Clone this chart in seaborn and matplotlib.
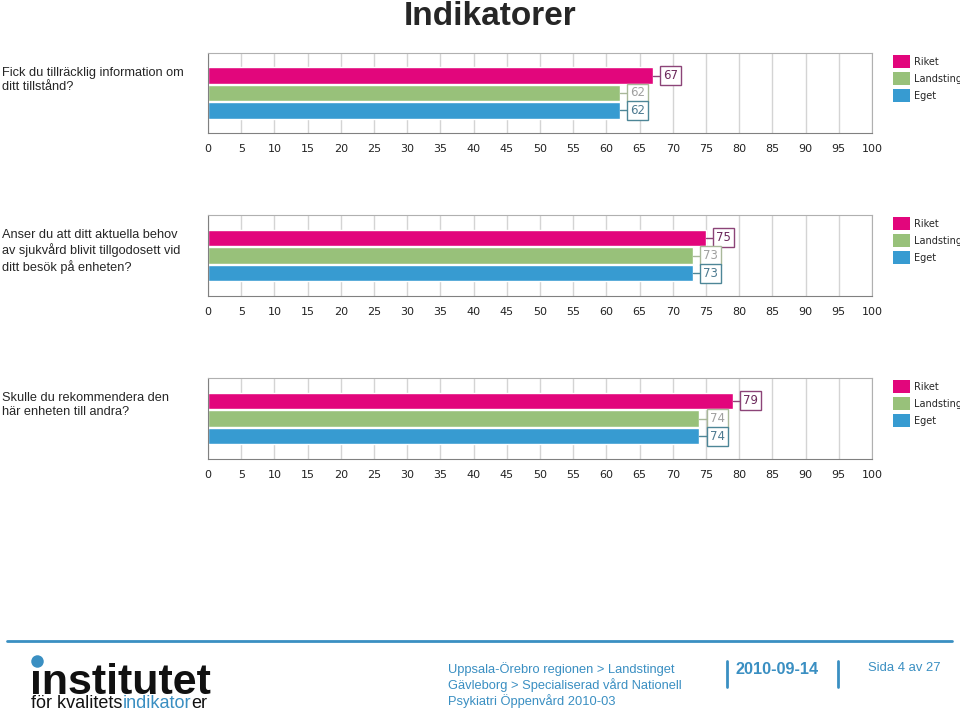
import numpy as np
import pandas as pd
import matplotlib as mpl

mpl.use('Agg')
import matplotlib.pyplot as plt
import seaborn as sns
from matplotlib.lines import Line2D

## Data
series = ['Riket', 'Landsting', 'Eget']
questions = ['Fick du tillräcklig information om\nditt tillstånd?',
             'Anser du att ditt aktuella behov\nav sjukvård blivit tillgodosett vid\nditt besök på enheten?',
             'Skulle du rekommendera den\nhär enheten till andra?']
values = [[67, 62, 62],
          [75, 73, 73],
          [79, 74, 74]]
x_ticks = list(range(0, 101, 5))

colors = {'Riket': '#e2067c', 'Landsting': '#98c17a', 'Eget': '#379bd1'}
label_edge = {'Riket': '#8c4478', 'Landsting': '#a9b89a', 'Eget': '#4d8697'}
label_text = {'Riket': '#6c2a5c', 'Landsting': '#a0a0a0', 'Eget': '#4d7a90'}
blue = '#3a8fc2'

sns.set_style('white')
plt.rcParams['font.family'] = ['Liberation Sans', 'DejaVu Sans']

fig = plt.figure(figsize=(9.6, 7.12), dpi=100)

# Title
fig.text(490 / 960, 1 - 25 / 712, 'Indikatorer', ha='center', va='baseline',
         fontsize=24, fontweight='bold')

# Panels (pixel tops/bottoms)
panel_px = [(53, 133), (215, 296), (378, 459)]
for q, vals, (top, bot) in zip(questions, values, panel_px):
    ax = fig.add_axes([208 / 960, 1 - bot / 712, 664 / 960, (bot - top) / 712])
    df = pd.DataFrame({'serie': series, 'value': vals})
    sns.barplot(data=df, x='value', y='serie', hue='serie', palette=colors,
                orient='h', ax=ax, width=0.95, legend=False, saturation=1)
    ax.set_xlim(0, 100)
    ax.set_ylim(3.3, -1.3)
    ax.set_xticks(x_ticks)
    ax.set_xticks(range(0, 101), minor=True)
    ax.set_yticks([-0.85, 0.05, 0.95, 1.85, 2.75])
    ax.set_yticklabels([])
    ax.set_xlabel('')
    ax.set_ylabel('')
    ax.grid(axis='x', color='#d4d4d4', linewidth=1)
    ax.set_axisbelow(True)
    for s in ['top', 'right']:
        ax.spines[s].set_color('#b0b0b0')
    for s in ['left', 'bottom']:
        ax.spines[s].set_color('#808080')
    ax.tick_params(axis='x', which='major', length=4, color='#808080',
                   labelsize=8, labelcolor='#222222', pad=4, direction='out')
    ax.tick_params(axis='x', which='minor', length=2, color='#a0a0a0', direction='out')
    ax.tick_params(axis='y', length=3, color='#808080', direction='out')
    for lab in ax.get_xticklabels():
        lab.set_fontfamily('DejaVu Sans')

    # value labels
    for i, (s, v) in enumerate(zip(series, vals)):
        ax.plot([v, v + 1.4], [i, i], color=label_edge[s], linewidth=1, clip_on=False)
        ax.text(v + 1.55, i, str(v), ha='left', va='center', fontsize=8.5,
                color=label_text[s], family='DejaVu Sans',
                bbox=dict(boxstyle='square,pad=0.25', fc='white', ec=label_edge[s], lw=1))

    # legend
    handles = [mpl.patches.Patch(facecolor=colors[s], edgecolor='none') for s in series]
    leg = ax.legend(handles, series, loc='upper left', bbox_to_anchor=(1.028, 1.0),
                    frameon=False, fontsize=7, handlelength=1.8, handleheight=1.7,
                    labelspacing=0.42, handletextpad=0.4, borderaxespad=0,
                    borderpad=0.2)
    for t in leg.get_texts():
        t.set_fontfamily('DejaVu Sans')

    # question
    fig.text(2 / 960, 1 - (top + 14) / 712, q, ha='left', va='top', fontsize=9.2,
             linespacing=1.22)

# Footer
fig.add_artist(Line2D([7 / 960, 952 / 960], [1 - 641 / 712] * 2, color=blue, linewidth=2))
fig.text(30 / 960, 1 - 694 / 712, '\u0131nstitutet', fontsize=31, fontweight='bold',
         ha='left', va='baseline', color='#111111')
fig.add_artist(Line2D([37 / 960], [1 - 661 / 712], marker='o', markersize=9,
                      color=blue, markeredgecolor='none'))

renderer = fig.canvas.get_renderer()
x = 31 / 960
for part, col in [('för kvalitets', '#111111'), ('indikator', blue), ('er', '#111111')]:
    t = fig.text(x, 1 - 708 / 712, part, fontsize=13, color=col, ha='left', va='baseline')
    bb = t.get_window_extent(renderer=renderer)
    x = bb.x1 / fig.bbox.width

fig.text(448 / 960, 1 - 662 / 712,
         'Uppsala-Örebro regionen > Landstinget\nGävleborg > Specialiserad vård Nationell\nPsykiatri Öppenvård 2010-03',
         fontsize=9.3, color=blue, ha='left', va='top', linespacing=1.2)
fig.add_artist(Line2D([727 / 960] * 2, [1 - 661 / 712, 1 - 687 / 712], color=blue, linewidth=2))
fig.add_artist(Line2D([838 / 960] * 2, [1 - 661 / 712, 1 - 687 / 712], color=blue, linewidth=2))
fig.text(735 / 960, 1 - 670 / 712, '2010-09-14', fontsize=11.7, fontweight='bold',
         color=blue, ha='left', va='center')
fig.text(868 / 960, 1 - 668 / 712, 'Sida 4 av 27', fontsize=9.4, color=blue,
         ha='left', va='center')

fig.savefig('out.png', dpi=100)
